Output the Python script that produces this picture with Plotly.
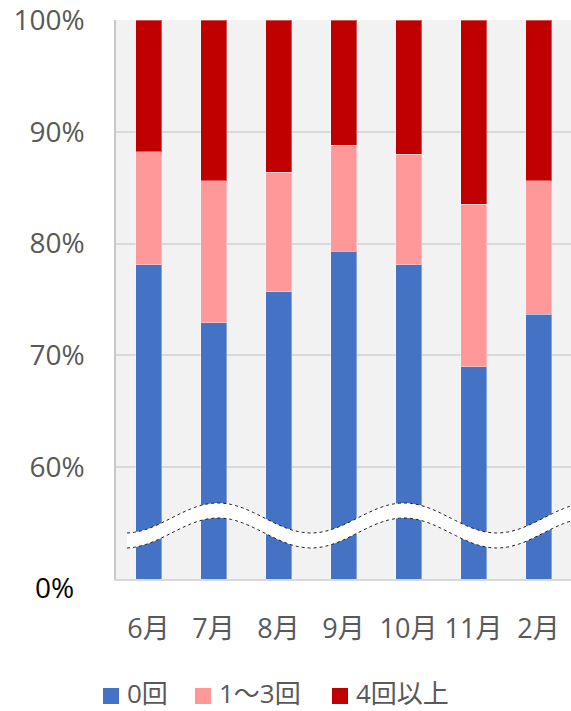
import numpy as np
import plotly.graph_objects as go

months = ["6月", "7月", "8月", "9月", "10月", "11月", "2月"]
zero_times = [78.1, 72.9, 75.7, 79.3, 78.1, 69.0, 73.7]
one_to_three = [10.1, 12.7, 10.7, 9.5, 9.9, 14.5, 11.9]
four_plus = [11.8, 14.4, 13.6, 11.2, 12.0, 16.5, 14.4]
series_names = ["0回", "1〜3回", "4回以上"]
series_colors = ["#4472C4", "#FF9999", "#C00000"]
y_ticks = [60, 70, 80, 90, 100]
y_tick_text = ["60%", "70%", "80%", "90%", "100%"]

W, H = 571, 711
ML, MR, MT, MB = 116, 0, 20, 132
PW, PH = W - ML - MR, H - MT - MB

FONT = "Open Sans, Noto Sans CJK JP, sans-serif"
GRAY = "#595959"

fig = go.Figure()
for name, vals, col in zip(series_names, [zero_times, one_to_three, four_plus], series_colors):
    fig.add_trace(go.Bar(
        x=months, y=vals, name=name, showlegend=False,
        marker=dict(color=col, line=dict(color="rgba(255,255,255,0.35)", width=1)),
    ))


def to_paper(px, py):
    return (px - ML) / PW, (MT + PH - py) / PH


# wavy axis-break band across the lower part of the plot
xs = np.linspace(127, 571, 120)
top = 518 - 15 * np.cos(2 * np.pi * (xs - 218) / 186)
bot = top + 15
top_pts = [to_paper(a, b) for a, b in zip(xs, top)]
bot_pts = [to_paper(a, b) for a, b in zip(xs, bot)]


def path_of(pts, close=False):
    s = "M" + " L".join(f"{x:.5f},{y:.5f}" for x, y in pts)
    return s + (" Z" if close else "")


band = top_pts + bot_pts[::-1]
shapes = [
    dict(type="path", xref="paper", yref="paper", path=path_of(band, True),
         fillcolor="white", line=dict(width=0), layer="above"),
    dict(type="path", xref="paper", yref="paper", path=path_of(top_pts),
         line=dict(color="#222222", width=1, dash="dot"), layer="above"),
    dict(type="path", xref="paper", yref="paper", path=path_of(bot_pts),
         line=dict(color="#222222", width=1, dash="dot"), layer="above"),
]

# legend row below the month labels: colour swatch followed by series name
annotations = []
legend_swatch_left = [103, 195, 332]
swatch_y = 696
text_y = 693
for name, col, sx in zip(series_names, series_colors, legend_swatch_left):
    x0, y0 = to_paper(sx, swatch_y + 8)
    x1, y1 = to_paper(sx + 16, swatch_y - 8)
    shapes.append(dict(type="rect", xref="paper", yref="paper",
                       x0=x0, y0=y0, x1=x1, y1=y1,
                       fillcolor=col, line=dict(width=0)))
    tx, ty = to_paper(sx + 22, text_y)
    annotations.append(dict(
        text=name, xref="paper", yref="paper", x=tx, y=ty,
        xanchor="left", yanchor="middle", showarrow=False,
        font=dict(size=26, color=GRAY, family=FONT),
    ))

zx, zy = to_paper(76, 587)
annotations.append(dict(
    text="0%", xref="paper", yref="paper", x=zx, y=zy,
    xanchor="right", yanchor="middle", showarrow=False,
    font=dict(size=28, color="black", family=FONT),
))

fig.update_layout(
    width=W, height=H,
    margin=dict(l=ML, r=MR, t=MT, b=MB, pad=0),
    paper_bgcolor="white",
    plot_bgcolor="#F2F2F2",
    barmode="stack",
    bargap=0.6,
    font=dict(family=FONT, color=GRAY),
    shapes=shapes,
    annotations=annotations,
    showlegend=False,
)
fig.update_xaxes(
    type="category", showgrid=False, ticks="",
    showline=True, linecolor="#D9D9D9", linewidth=2,
    tickfont=dict(size=27, color=GRAY, family=FONT),
    ticklabelstandoff=25,
)
fig.update_yaxes(
    range=[50, 100], tickvals=y_ticks, ticktext=y_tick_text,
    showgrid=True, gridcolor="#D9D9D9", gridwidth=1.5,
    zeroline=False, showline=True, linecolor="#C8C8C8", linewidth=1.5,
    ticks="", ticklabelstandoff=24, ticklabeloverflow="allow",
    tickfont=dict(size=28, color=GRAY, family=FONT),
)

fig.write_html("out.html")
